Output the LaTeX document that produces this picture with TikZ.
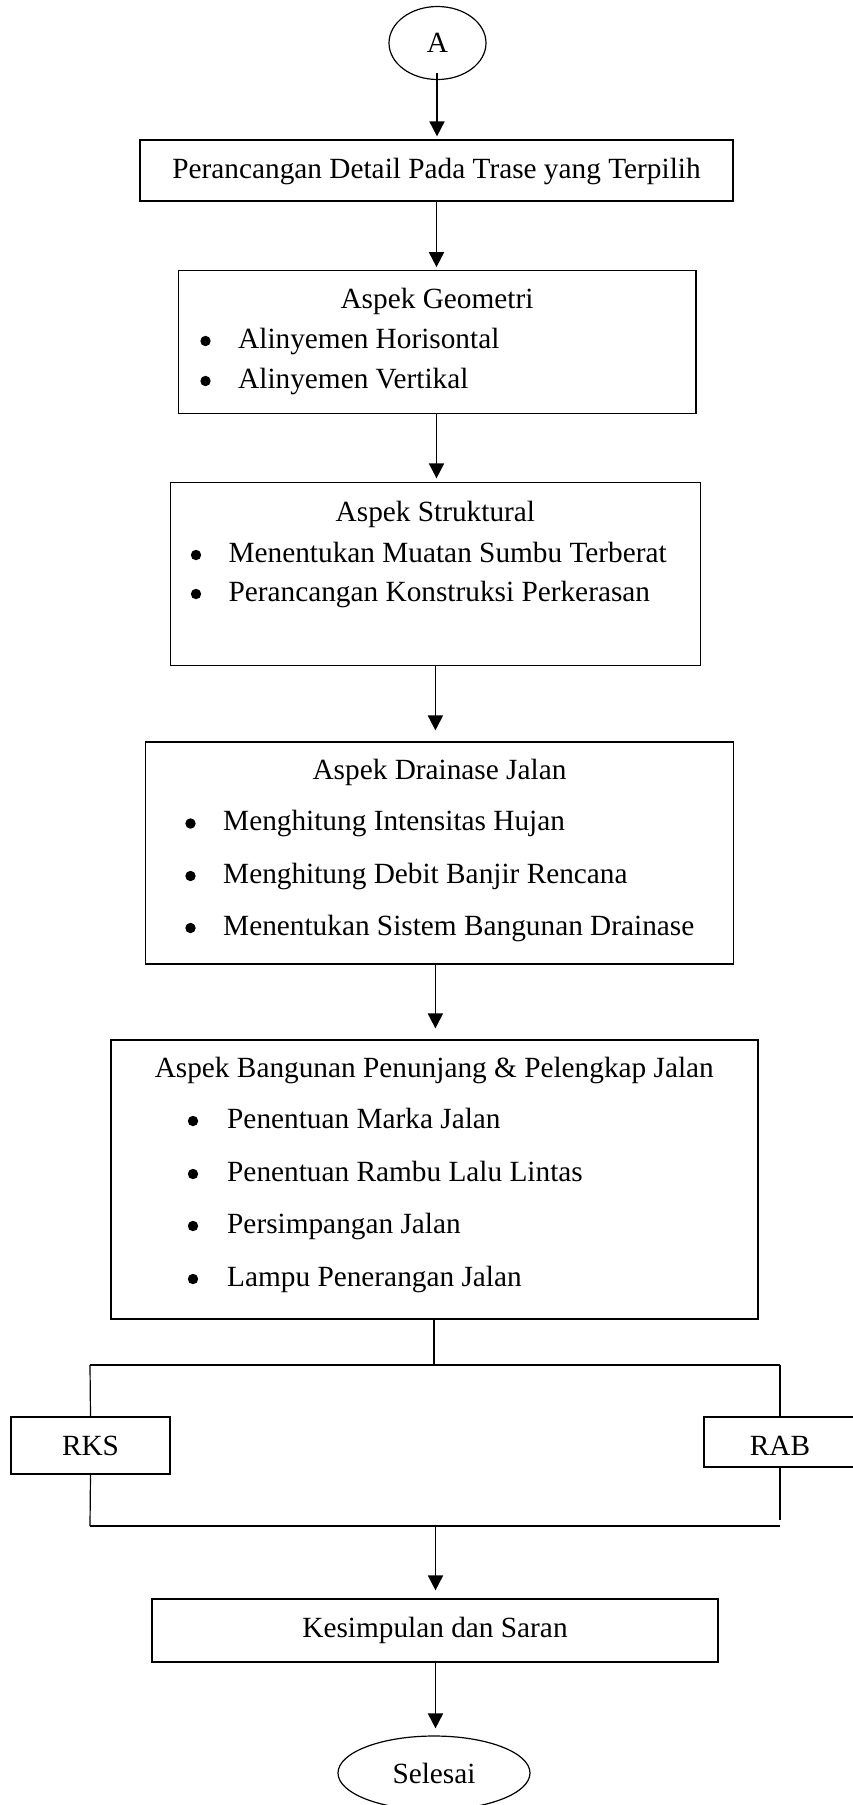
\documentclass[tikz,border=0pt]{standalone}
\usepackage{fontspec}
\setmainfont{Liberation Serif}
\usetikzlibrary{shapes.geometric,arrows.meta}
\begin{document}
\begin{tikzpicture}[x=1pt,y=-1pt,
  box/.style={draw,line width=1.2pt,rectangle,inner sep=0pt,font=\fontsize{29.3}{35}\selectfont},
  oval/.style={draw,line width=1.2pt,ellipse,inner sep=0pt,font=\fontsize{29.3}{35}\selectfont},
  txt/.style={inner sep=0pt,font=\fontsize{29.3}{35}\selectfont},
  arr/.style={line width=1.8pt,-{Triangle[length=15pt,width=15pt]}},
  conn/.style={line width=1.2pt},
  bul/.style={fill=black}
]
\useasboundingbox (0,0) rectangle (853,1805);

% nodes
\node[oval,minimum width=97pt,minimum height=73pt] (A) at (437.5,43) {A};
\node[box,minimum width=593pt,minimum height=61pt,text height=23pt] (b1) at (436.5,170.5) {Perancangan Detail Pada Trase yang Terpilih};
\node[box,minimum width=517.5pt,minimum height=142.5pt] (b2) at (437.2,342) {};
\node[box,minimum width=530pt,minimum height=183pt] (b3) at (435.4,574) {};
\node[box,minimum width=588pt,minimum height=222pt] (b4) at (439.5,853) {};
\node[box,minimum width=647pt,minimum height=279pt] (b5) at (434.5,1179.5) {};
\node[box,minimum width=159pt,minimum height=57pt] (rks) at (90.5,1445.5) {RKS};
\node[box,minimum width=152pt,minimum height=50pt] (rab) at (780,1442) {};
\node[txt] (rabt) at ([yshift=-4pt]rab.center) {RAB};
\node[box,minimum width=566pt,minimum height=63pt] (b6) at (435,1630.5) {Kesimpulan dan Saran};
\node[oval,minimum width=192pt,minimum height=74pt] (end) at (434,1773) {Selesai};

% box 2 contents
\node[txt,anchor=mid] (t2) at (437,306) {Aspek Geometri};
\fill[bul] (205.5,341) circle (5.2pt);
\node[txt,anchor=mid west] (t21) at (238,346) {Alinyemen Horisontal};
\fill[bul] (205.5,381) circle (5.2pt);
\node[txt,anchor=mid west] (t22) at (238,386) {Alinyemen Vertikal};

% box 3 contents
\node[txt,anchor=mid] (t3) at (435.4,519) {Aspek Struktural};
\fill[bul] (196,555) circle (5.2pt);
\node[txt,anchor=mid west] (t31) at (228.4,560) {Menentukan Muatan Sumbu Terberat};
\fill[bul] (196,594) circle (5.2pt);
\node[txt,anchor=mid west] (t32) at (228.4,599) {Perancangan Konstruksi Perkerasan};

% box 4 contents
\node[txt,anchor=mid] (t4) at (439.5,777) {Aspek Drainase Jalan};
\fill[bul] (190.5,823.5) circle (5.2pt);
\node[txt,anchor=mid west] (t41) at (223,828.5) {Menghitung Intensitas Hujan};
\fill[bul] (190.5,876) circle (5.2pt);
\node[txt,anchor=mid west] (t42) at (223,881) {Menghitung Debit Banjir Rencana};
\fill[bul] (190.5,928) circle (5.2pt);
\node[txt,anchor=mid west] (t43) at (223,933) {Menentukan Sistem Bangunan Drainase};

% box 5 contents
\node[txt,anchor=mid] (t5) at (434.3,1075) {Aspek Bangunan Penunjang \& Pelengkap Jalan};
\fill[bul] (193,1121) circle (5.2pt);
\node[txt,anchor=mid west] (t51) at (227,1126) {Penentuan Marka Jalan};
\fill[bul] (193,1174) circle (5.2pt);
\node[txt,anchor=mid west] (t52) at (227,1179) {Penentuan Rambu Lalu Lintas};
\fill[bul] (193,1226) circle (5.2pt);
\node[txt,anchor=mid west] (t53) at (227,1231) {Persimpangan Jalan};
\fill[bul] (193,1279) circle (5.2pt);
\node[txt,anchor=mid west] (t54) at (227,1284) {Lampu Penerangan Jalan};

% helper coordinates
\coordinate (s0) at (437,73);
\coordinate (jc) at (434,1365);
\coordinate (tl) at (90,1365);
\coordinate (tr) at (780,1365);
\coordinate (bl) at (90,1526);
\coordinate (br) at (780,1526);
\coordinate (brs) at (780,1520);
\coordinate (bm) at (435.5,1526);

% arrows
\draw[arr] (s0) -- ([yshift=3pt]s0 |- b1.north);
\draw[arr] (b1.south) -- ([yshift=3pt]b1.south |- b2.north);
\draw[arr] (b2.south -| b1.south) -- ([yshift=3.5pt]b1.south |- b3.north);
\draw[arr] (b3.south) -- ([yshift=11pt]b3.south |- b4.north);
\draw[arr] (b4.south -| b3.south) -- ([yshift=11pt]b3.south |- b5.north);
\draw[conn] (b5.south -| jc) -- (jc);
\draw[conn] (tl) -- (tr);
\draw[conn] (tl) -- (rks.north);
\draw[conn] (rks.south) -- (bl);
\draw[conn] (tr) -- (tr |- rab.north);
\draw[conn] (tr |- rab.south) -- (brs);
\draw[conn] (bl) -- (br);
\draw[arr] (bm) -- ([yshift=8pt]bm |- b6.north);
\draw[arr] (b6.south -| bm) -- ([yshift=7pt]bm |- end.north);
\end{tikzpicture}
\end{document}
